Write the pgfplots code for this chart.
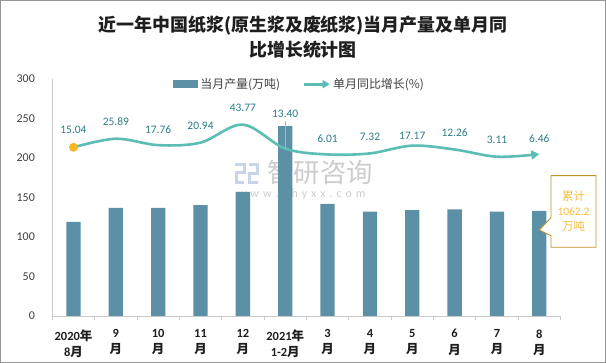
\documentclass[border=0pt]{standalone}
\usepackage{fontspec}
\setmainfont{Carlito}
\newfontfamily\cjk{Noto Sans CJK SC}
\usepackage{pgfplots}
\pgfplotsset{compat=1.18}
\usepackage{pgfplotstable}
\usetikzlibrary{arrows.meta}

\definecolor{barc}{RGB}{91,144,166}
\definecolor{linec}{RGB}{92,189,181}
\definecolor{labc}{RGB}{45,125,135}
\definecolor{markc}{RGB}{245,183,35}
\definecolor{axisc}{RGB}{200,200,200}
\definecolor{framec}{RGB}{150,150,150}
\definecolor{tickc}{RGB}{64,64,64}
\definecolor{titlec}{RGB}{30,30,30}
\definecolor{callt}{RGB}{245,190,60}
\definecolor{callb}{RGB}{190,145,40}
\definecolor{wmc}{RGB}{205,205,205}
\definecolor{logoc}{RGB}{200,212,232}

\pgfplotstableread{
x prod yoy ly lab
0 119.0 15.04 36.9 15.04
1 137.0 25.89 47.4 25.89
2 137.0 17.76 37.8 17.76
3 140.5 20.94 42.0 20.94
4 157.0 43.77 65.2 43.77
5 240.5 13.40 56.8 13.40
6 142.0 6.01 26.4 6.01
7 132.0 7.32 27.7 7.32
8 134.0 17.17 29.3 17.17
9 135.0 12.26 33.5 12.26
10 132.0 3.11 24.3 3.11
11 133.0 6.46 25.9 6.46
}\data

\begin{document}
\begin{tikzpicture}
\useasboundingbox (0bp,0bp) rectangle (606bp,363bp);
\fill[white] (0bp,0bp) rectangle (606bp,363bp);
\draw[framec, line width=1bp] (0.5bp,0.5bp) rectangle (605.5bp,362.5bp);

% title
\node[font=\cjk\bfseries\fontsize{18}{25}\selectfont, align=center, text=titlec] at (303bp,325.5bp)
  {近一年中国纸浆(原生浆及废纸浆)当月产量及单月同\\比增长统计图};

% watermark
\draw[logoc, line width=3bp] (235bp,198bp) -- (244bp,198bp) -- (244bp,190bp) -- (236bp,190bp) -- (236bp,180bp) -- (244bp,180bp);
\draw[logoc, line width=3bp] (249bp,198bp) -- (257bp,198bp) -- (257bp,189bp) -- (249bp,189bp) -- (249bp,180bp) -- (258bp,180bp);
\node[font=\cjk\fontsize{26.5}{27}\selectfont, text=wmc, inner sep=0pt] at (320bp,190bp) {智研咨询};
\node[font=\fontsize{12}{12}\selectfont, text=wmc, inner sep=0pt] at (301.7bp,169bp) {w\,\,w\,\,w\,\,.\,\,c\,\,h\,\,y\,\,x\,\,x\,\,.\,\,c\,\,o\,\,m};

\begin{axis}[
  at={(52.3bp,47bp)}, anchor=south west, scale only axis,
  width=508.2bp, height=237bp,
  xmin=-0.5, xmax=11.5, ymin=0, ymax=300,
  axis x line*=bottom, axis y line*=left,
  axis line style={axisc, line width=0.8bp, -},
  ytick={0,50,...,300}, ytick style={draw=none},
  /pgf/number format/assume math mode=true,
  yticklabel style={font=\fontsize{12}{12}\selectfont, text=tickc, anchor=east, inner sep=0pt, xshift=-13bp},
  xtick={0,...,11}, major x tick style={draw=none},
  minor xtick={-0.5,0.5,...,11.5}, minor x tick style={axisc, line width=0.8bp},
  minor tick length=4bp, tick align=outside,
  xticklabels={{2020{\cjk 年}\\8{\cjk 月}},{9\\{\cjk 月}},{10\\{\cjk 月}},{11\\{\cjk 月}},{12\\{\cjk 月}},{2021{\cjk 年}\\1-2{\cjk 月}},{3\\{\cjk 月}},{4\\{\cjk 月}},{5\\{\cjk 月}},{6\\{\cjk 月}},{7\\{\cjk 月}},{8\\{\cjk 月}}},
  xticklabel style={font=\bfseries\fontsize{12.5}{16.3}\selectfont, text=titlec, align=center, anchor=north, inner sep=0pt, yshift=-9bp},
  legend style={at={(0.232,0.978)}, anchor=west, draw=none, fill=none, legend columns=2,
    font=\cjk\fontsize{12}{12}\selectfont, text=tickc,
    /tikz/every even column/.append style={column sep=20bp}},
  legend cell align=left,
]
\addplot[ybar, bar width=14.3bp, fill=barc, draw=none,
  legend image code/.code={\fill[barc] (0bp,-3.8bp) rectangle (25bp,3.8bp);}]
  table[x=x,y=prod]{\data};
\addlegendentry{当月产量(万吨)}
\addlegendimage{legend image code/.code={\draw[linec, line width=3bp, -{Triangle[length=7bp,width=8bp]}] (0bp,0bp) -- (26bp,0bp);}}
\addlegendentry{单月同比增长(\%)}
\end{axis}

\begin{axis}[
  at={(52.3bp,47bp)}, anchor=south west, scale only axis,
  width=508.2bp, height=237bp,
  xmin=-0.5, xmax=11.5, ymin=-198.5, ymax=101.5,
  axis lines=none, clip=false,
]
\addplot[linec, line width=2.6bp, smooth, tension=0.55, -{Triangle[length=8bp,width=9bp]}]
  table[x=x,y=yoy]{\data};
\addplot[only marks, mark=*, mark size=4.2bp, mark options={fill=markc, draw=markc}]
  coordinates {(0,15.04)};
\addplot[draw=none, mark=none, nodes near coords, point meta=explicit symbolic,
  every node near coord/.append style={anchor=center, font=\fontsize{11.5}{12}\selectfont, text=labc, inner sep=0pt}]
  table[x=x,y=ly,meta=lab]{\data};
\draw[gray!60, line width=0.6bp] (axis cs:5,48) -- (axis cs:5,13.4);
\end{axis}

% callout
\draw[callb, fill=white, line width=0.9bp] (551bp,187.3bp) -- (596bp,187.3bp) -- (596bp,115.7bp) -- (551bp,115.7bp) -- (551bp,127.3bp) -- (539.3bp,133bp) -- (551bp,145.3bp) -- cycle;
\node[font=\fontsize{11.5}{15}\selectfont, text=callt, align=center] at (573.5bp,151.5bp) {{\cjk 累计}\\1062.2\\{\cjk 万吨}};
\end{tikzpicture}
\end{document}
